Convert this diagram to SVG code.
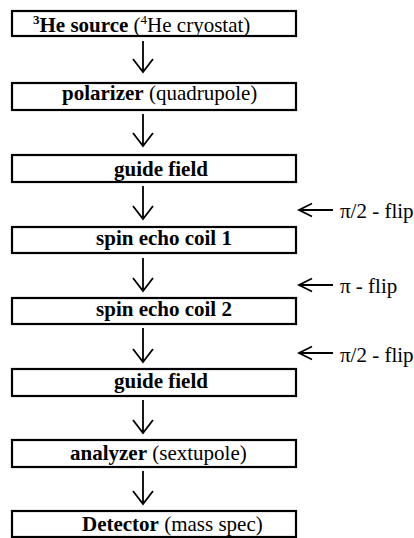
<svg xmlns="http://www.w3.org/2000/svg" width="414" height="538" viewBox="0 0 414 538">
<style>
.box{fill:#fff;stroke:#000;stroke-width:2.2}
.t{font-family:"Liberation Serif","Times New Roman",serif;font-size:21px;fill:#000}
.b{font-weight:bold}
.ln{stroke:#000;stroke-width:1.8;fill:none}
.sup{font-size:13px}
</style>
<rect width="414" height="538" fill="#fff"/>
<g id="connectors">
<path class="ln" d="M143 41V72M133 59L143 72L153 59"/>
<path class="ln" d="M143 114V146M133 133L143 146L153 133"/>
<path class="ln" d="M143 186V219M133 206L143 219L153 206"/>
<path class="ln" d="M143 258V291M133 278L143 291L153 278"/>
<path class="ln" d="M143 328V362M133 349L143 362L153 349"/>
<path class="ln" d="M143 400V433M133 420L143 433L153 420"/>
<path class="ln" d="M143 471V504M133 491L143 504L153 491"/>
<path class="ln" d="M299 210H333M312 203.5L299 210L312 216.5"/>
<path class="ln" d="M299 285H333M312 278.5L299 285L312 291.5"/>
<path class="ln" d="M299 353H333M312 346.5L299 353L312 359.5"/>
</g>
<g id="n1"><rect class="box" x="12" y="11" width="284" height="25"/>
<text class="t" x="33" y="32"><tspan class="b sup" dy="-8">3</tspan><tspan class="b" dy="8">He source</tspan> (<tspan class="sup" dy="-8">4</tspan><tspan dy="8">He cryostat)</tspan></text></g>
<g id="n2"><rect class="box" x="12" y="83" width="284" height="27"/>
<text class="t" x="62" y="100"><tspan class="b">polarizer</tspan> (quadrupole)</text></g>
<g id="n3"><rect class="box" x="12" y="155" width="284" height="27"/>
<text class="t b" x="161" y="176" text-anchor="middle">guide field</text></g>
<g id="n4"><rect class="box" x="12" y="227" width="284" height="26"/>
<text class="t b" x="164" y="245" text-anchor="middle">spin echo coil 1</text></g>
<g id="n5"><rect class="box" x="12" y="298" width="284" height="26"/>
<text class="t b" x="164" y="316" text-anchor="middle">spin echo coil 2</text></g>
<g id="n6"><rect class="box" x="12" y="369" width="284" height="27"/>
<text class="t b" x="161" y="388" text-anchor="middle">guide field</text></g>
<g id="n7"><rect class="box" x="12" y="440" width="284" height="27"/>
<text class="t" x="70" y="460"><tspan class="b">analyzer</tspan> (sextupole)</text></g>
<g id="n8"><rect class="box" x="12" y="511" width="284" height="26"/>
<text class="t" x="82" y="531"><tspan class="b">Detector</tspan> (mass spec)</text></g>
<g id="flips">
<text class="t" x="340" y="218">π/2 - flip</text>
<text class="t" x="340" y="293">π - flip</text>
<text class="t" x="340" y="362">π/2 - flip</text>
</g>
</svg>
